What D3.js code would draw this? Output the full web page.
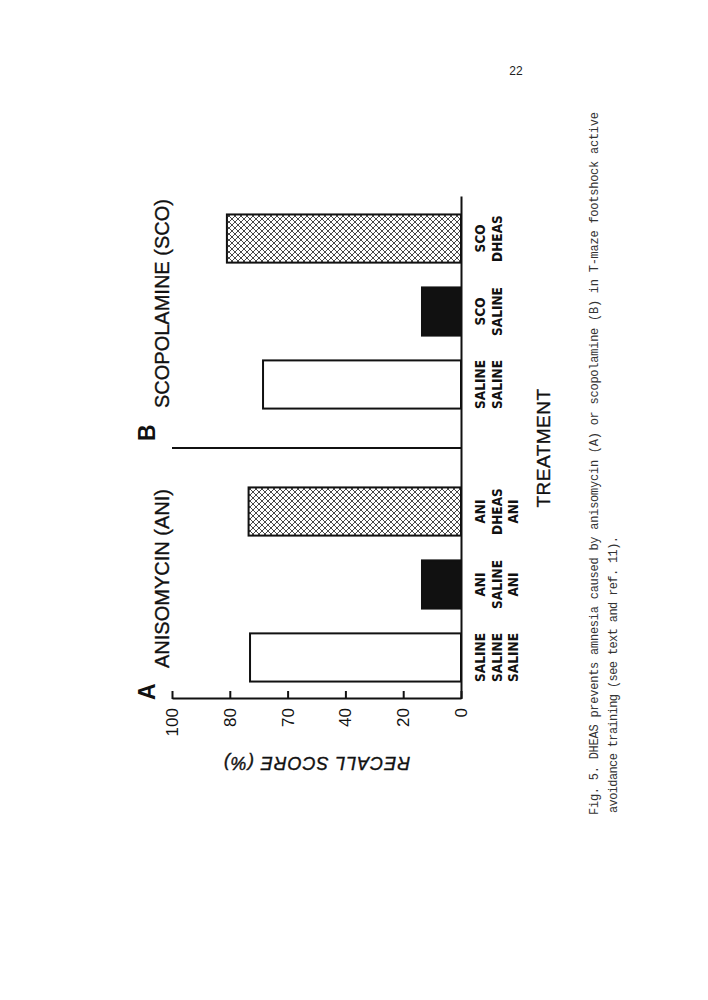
<!DOCTYPE html>
<html>
<head>
<meta charset="utf-8">
<script src="https://cdn.jsdelivr.net/npm/d3@7"></script>
<style>
  body { margin: 0; background: #fff; }
  svg { display: block; }
</style>
</head>
<body>
<svg id="chart"></svg>
<script>
// values
const groups = ["A", "B"];
const groupTitles = ["ANISOMYCIN (ANI)", "SCOPOLAMINE (SCO)"];
const treatmentGroup = ["A", "A", "A", "B", "B", "B"];
const treatmentLabels = [
  ["SALINE", "SALINE", "SALINE"],
  ["ANI", "SALINE", "ANI"],
  ["ANI", "DHEAS", "ANI"],
  ["SALINE", "SALINE"],
  ["SCO", "SALINE"],
  ["SCO", "DHEAS"]
];
const treatmentKind = ["control", "amnesic", "dheas", "control", "amnesic", "dheas"];
const recallScores = [73, 13.5, 73.5, 68.5, 13.5, 81];
const yTicks = [100, 80, 60, 40, 20, 0];
const yTickLabels = ["100", "80", "70", "40", "20", "0"];
const caption = [
  "Fig. 5.  DHEAS prevents amnesia caused by anisomycin (A) or scopolamine (B) in T-maze footshock active",
  "avoidance training (see text and ref. 11)."
];

const svgWidth = 708, svgHeight = 1000;
const width = 502, height = 289;   // chart drawn upright, then turned on its side
const sans = "'Liberation Sans', Arial, sans-serif";

const svg = d3.select("#chart")
    .attr("width", svgWidth)
    .attr("height", svgHeight);

const defs = svg.append("defs");
const pat = defs.append("pattern")
    .attr("id", "hatch")
    .attr("patternUnits", "userSpaceOnUse")
    .attr("width", 6)
    .attr("height", 6);
pat.append("rect").attr("width", 6).attr("height", 6).attr("fill", "#fff");
pat.append("path")
    .attr("d", "M0,0L6,6M6,0L0,6M-1,5L1,7M5,-1L7,1M-1,1L1,-1M5,7L7,5")
    .attr("stroke", "#333")
    .attr("stroke-width", 0.9);

const fillFor = { control: "#fff", amnesic: "#111", dheas: "url(#hatch)" };

const g = svg.append("g")
    .attr("transform", "translate(172,699) rotate(-90)");

const x0 = d3.scaleBand().domain(groups).range([0, width])
    .paddingInner(0.198).paddingOuter(0.0185);
const x1 = d3.scaleBand().domain([0, 1, 2]).range([0, x0.bandwidth()])
    .paddingInner(0.34).paddingOuter(0.17);
const y = d3.scaleLinear().domain([0, 100]).range([height, 0]);

const idxInGroup = treatmentGroup.map(function(gr, i) {
  return treatmentGroup.slice(0, i).filter(function(v) { return v === gr; }).length;
});
const barX = function(i) { return x0(treatmentGroup[i]) + x1(idxInGroup[i]); };

// bars
g.selectAll("rect.bar")
    .data(recallScores)
    .enter()
    .append("rect")
    .attr("class", "bar")
    .attr("x", function(d, i) { return barX(i); })
    .attr("y", function(d) { return y(d); })
    .attr("width", x1.bandwidth())
    .attr("height", function(d) { return height - y(d); })
    .attr("fill", function(d, i) { return fillFor[treatmentKind[i]]; })
    .attr("stroke", "#111")
    .attr("stroke-width", 2);

// divider between A and B
const divX = x0("B") - x0.step() * x0.paddingInner() / 2;
g.append("line")
    .attr("x1", divX).attr("x2", divX)
    .attr("y1", y(100)).attr("y2", y(0))
    .attr("stroke", "#111")
    .attr("stroke-width", 2);

// value axis
const yAxis = g.append("g")
    .call(d3.axisLeft(y)
      .tickValues(yTicks)
      .tickFormat(function(d) { return yTickLabels[yTicks.indexOf(d)]; })
      .tickSizeInner(-8)
      .tickSizeOuter(0)
      .tickPadding(9));
yAxis.selectAll("path, line").attr("stroke", "#111").attr("stroke-width", 2);
yAxis.selectAll("text")
    .attr("font-family", sans)
    .attr("font-size", 17)
    .attr("fill", "#111");

// category axis line
const xAxis = g.append("g")
    .attr("transform", "translate(0," + height + ")")
    .call(d3.axisBottom(x0).tickSize(0).tickFormat(""));
xAxis.select("path").attr("stroke", "#111").attr("stroke-width", 2);

// treatment labels
const lab = g.selectAll("text.treat")
    .data(treatmentLabels)
    .enter()
    .append("text")
    .attr("class", "treat")
    .attr("text-anchor", "middle")
    .attr("font-family", "'Liberation Sans Narrow', 'DejaVu Sans Condensed', sans-serif")
    .attr("font-weight", "bold")
    .attr("font-size", 13.5)
    .attr("fill", "#111");
lab.selectAll("tspan")
    .data(function(d, i) { return d.map(function(t) { return { t: t, i: i }; }); })
    .enter()
    .append("tspan")
    .attr("x", function(d) { return barX(d.i) + x1.bandwidth() / 2; })
    .attr("y", function(d, j) { return height + 24 + j * 16.5; })
    .text(function(d) { return d.t; });

// axis titles
g.append("text")
    .attr("transform", "translate(-58," + (height / 2) + ") rotate(-90)")
    .attr("text-anchor", "middle")
    .attr("font-family", sans)
    .attr("font-style", "italic")
    .attr("font-size", 18)
    .attr("letter-spacing", 1)
    .attr("fill", "#111")
    .attr("stroke", "#111")
    .attr("stroke-width", 0.4)
    .text("RECALL SCORE (%)");

g.append("text")
    .attr("x", width / 2)
    .attr("y", height + 89)
    .attr("text-anchor", "middle")
    .attr("font-family", sans)
    .attr("font-size", 19)
    .attr("letter-spacing", 0.5)
    .attr("fill", "#111")
    .attr("stroke", "#111")
    .attr("stroke-width", 0.35)
    .text("TREATMENT");

// group headings
groups.forEach(function(gr, i) {
  const left = i === 0 ? 0 : divX;
  g.append("text")
      .attr("x", left + (i === 0 ? -1 : 7))
      .attr("y", -17)
      .attr("font-family", sans)
      .attr("font-weight", "bold")
      .attr("font-size", 23)
      .attr("fill", "#111")
      .text(gr);
  g.append("text")
      .attr("x", left + (i === 0 ? 31 : 40))
      .attr("y", -3)
      .attr("font-family", sans)
      .attr("font-size", 20)
      .attr("fill", "#111")
      .attr("stroke", "#111")
      .attr("stroke-width", 0.35)
      .text(groupTitles[i]);
});

// caption, typed sideways along the page
const capLen = [703, 277];
caption.forEach(function(line, i) {
  svg.append("text")
      .attr("transform", "translate(" + (598 + i * 19) + "," + (815 - i * 2) + ") rotate(-90)")
      .attr("font-family", "'Liberation Mono', 'DejaVu Sans Mono', monospace")
      .attr("font-size", 12)
      .attr("textLength", capLen[i])
      .attr("lengthAdjust", "spacing")
      .attr("fill", "#333")
      .text(line);
});

// page number
svg.append("text")
    .attr("x", 516)
    .attr("y", 75)
    .attr("text-anchor", "middle")
    .attr("font-family", sans)
    .attr("font-size", 12)
    .attr("fill", "#222")
    .text("22");
</script>
</body>
</html>
